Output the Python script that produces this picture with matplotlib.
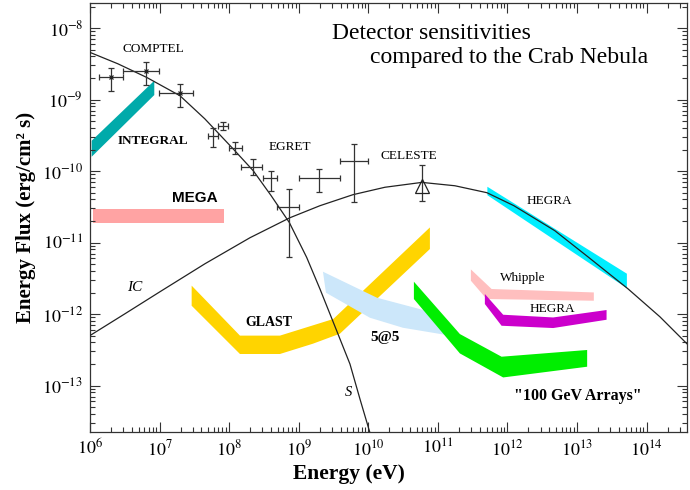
import numpy as np
import matplotlib
matplotlib.use("Agg")
import matplotlib.pyplot as plt
from matplotlib.ticker import FixedLocator, FuncFormatter, NullFormatter

plt.rcParams["font.family"] = ["Liberation Serif", "DejaVu Serif"]
plt.rcParams["mathtext.fontset"] = "stix"

# all values are log10(energy / eV) and log10(flux / erg cm^-2 s^-1)

# COMPTEL points: centre, x-range, y-range
comptel_x = [6.297, 6.805, 7.293]
comptel_y = [-8.691, -8.607, -8.915]
comptel_xlo = [6.134, 6.470, 6.996]
comptel_xhi = [6.470, 6.996, 7.476]
comptel_ylo = [-8.887, -8.797, -9.110]
comptel_yhi = [-8.559, -8.476, -8.783]

# EGRET points
egret_x = [7.767, 7.915, 8.088, 8.338, 8.596, 8.864, 9.295, 9.793]
egret_y = [-9.516, -9.371, -9.684, -9.940, -10.103, -10.499, -10.103, -9.856]
egret_xlo = [7.691, 7.843, 8.000, 8.165, 8.490, 8.691, 9.003, 9.592]
egret_xhi = [7.843, 7.987, 8.180, 8.476, 8.690, 9.007, 9.592, 9.999]
egret_ylo = [-9.670, -9.427, -9.762, -10.052, -10.285, -11.208, -10.299, -10.439]
egret_yhi = [-9.399, -9.310, -9.600, -9.832, -9.996, -10.252, -9.972, -9.622]

# CELESTE point
celeste_x = [10.775]
celeste_y = [-10.206]
celeste_ylo = [-10.415]
celeste_yhi = [-9.912]

# synchrotron (S) curve
sync_x = [6.0, 6.4, 6.815, 7.293, 7.65, 8.059, 8.346, 8.6, 8.864, 9.114,
          9.305, 9.545, 9.736, 9.88, 10.023]
sync_y = [-8.341, -8.50, -8.691, -8.947, -9.27, -9.692, -9.996, -10.34,
          -10.719, -11.208, -11.650, -12.233, -12.699, -13.189, -13.66]

# inverse Compton (IC) curve
ic_x = [6.0, 6.503, 7.006, 7.652, 8.299, 8.874, 9.305, 9.779, 10.239, 10.770,
        11.244, 11.704, 12.092, 12.681, 13.155, 13.730, 14.190, 14.578]
ic_y = [-12.301, -11.996, -11.688, -11.297, -10.933, -10.653, -10.485, -10.331,
        -10.227, -10.159, -10.206, -10.303, -10.485, -10.835, -11.199, -11.646,
        -12.038, -12.415]

# sensitivity bands (polygon outlines)
integral_x = [6.024, 6.924, 6.924, 6.024]
integral_y = [-9.576, -8.737, -8.937, -9.800]

mega_x = [6.047, 7.925, 7.925, 6.047]
mega_y = [-10.531, -10.531, -10.727, -10.727]

glast_x = [7.461, 8.155, 8.730, 9.496, 10.885, 10.885, 9.592, 9.204, 8.730,
           8.155, 7.461]
glast_y = [-11.603, -12.302, -12.302, -12.070, -10.789, -11.091, -12.275,
           -12.415, -12.559, -12.559, -11.884]

fivefive_x = [9.348, 10.124, 10.885, 11.144, 11.101, 10.497, 10.023, 9.391]
fivefive_y = [-11.408, -11.772, -11.968, -12.122, -12.290, -12.192, -12.052,
              -11.702]

arrays_x = [10.655, 11.316, 11.915, 13.145, 13.145, 11.938, 11.316, 10.655]
arrays_y = [-11.548, -12.280, -12.597, -12.503, -12.737, -12.887, -12.551,
            -11.790]

whipple_x = [11.474, 11.772, 13.241, 13.241, 11.700, 11.474]
whipple_y = [-11.376, -11.650, -11.698, -11.814, -11.790, -11.534]

hegra_x = [11.675, 11.938, 12.657, 13.424, 13.424, 12.657, 11.915, 11.675]
hegra_y = [-11.720, -12.010, -12.048, -11.944, -12.080, -12.196, -12.164,
           -11.860]

hegra_crab_x = [11.711, 13.716, 13.716, 11.711]
hegra_crab_y = [-10.220, -11.436, -11.639, -10.338]

x_decades = [6, 7, 8, 9, 10, 11, 12, 13, 14]
y_decades = [-13, -12, -11, -10, -9, -8]


def p(v):
    return 10.0 ** np.asarray(v, dtype=float)


fig = plt.figure(figsize=(6.9, 4.9), dpi=100)
ax = fig.add_axes([90 / 690, 1 - 432 / 490, 597 / 690, 429 / 490])
ax.set_xscale("log")
ax.set_yscale("log")
ax.set_xlim(1e6, 10 ** 14.58)
ax.set_ylim(10 ** -13.65, 10 ** -7.65)

bands = [
    (integral_x, integral_y, "#00aaaa"),
    (mega_x, mega_y, "#ffa3a3"),
    (glast_x, glast_y, "#ffd400"),
    (fivefive_x, fivefive_y, "#cce7fa"),
    (arrays_x, arrays_y, "#00ee00"),
    (whipple_x, whipple_y, "#ffbfbf"),
    (hegra_x, hegra_y, "#cc00cc"),
    (hegra_crab_x, hegra_crab_y, "#00eeff"),
]
for bx, by, col in bands:
    ax.fill(p(bx), p(by), color=col, lw=0, zorder=1)

ax.plot(p(sync_x), p(sync_y), color="#222222", lw=0.9, zorder=3)
ax.plot(p(ic_x), p(ic_y), color="#222222", lw=0.9, zorder=3)


def errs(c, lo, hi):
    c = p(c)
    return [c - p(lo), p(hi) - c]


ebar = dict(fmt="none", ecolor="#333333", elinewidth=0.9, capsize=2.5,
            capthick=0.9, zorder=4)
ax.errorbar(p(comptel_x), p(comptel_y),
            xerr=errs(comptel_x, comptel_xlo, comptel_xhi),
            yerr=errs(comptel_y, comptel_ylo, comptel_yhi), **ebar)
ax.plot(p(comptel_x), p(comptel_y), "x", color="#222222", ms=3, mew=0.9,
        zorder=5)
ax.errorbar(p(egret_x), p(egret_y),
            xerr=errs(egret_x, egret_xlo, egret_xhi),
            yerr=errs(egret_y, egret_ylo, egret_yhi), **ebar)
ax.errorbar(p(celeste_x), p(celeste_y),
            yerr=errs(celeste_y, celeste_ylo, celeste_yhi), **ebar)
ax.plot(p(celeste_x), p(celeste_y), "^", ms=10, mfc="none", mec="#222222",
        mew=0.9, zorder=5)

# labels
ax.text(p(6.905), p(-8.290), "COMPTEL", fontsize=9.5, ha="center", va="center")
ax.text(p(6.901), p(-9.576), "INTEGRAL", fontsize=9.5, fontweight="bold",
        ha="center", va="center")
ax.text(p(8.871), p(-9.660), "EGRET", fontsize=9.5, ha="center", va="center")
ax.text(p(10.576), p(-9.786), "CELESTE", fontsize=9.5, ha="center", va="center")
ax.text(p(12.609), p(-10.420), "HEGRA", fontsize=9.5, ha="center", va="center")
ax.text(p(7.509), p(-10.378), "MEGA", fontsize=11, fontweight="bold",
        family=["Liberation Sans", "DejaVu Sans"], ha="center", va="center")
ax.text(p(6.642), p(-11.628), "IC", fontsize=11, style="italic",
        ha="center", va="center")
ax.text(p(8.576), p(-12.117), "GLAST", fontsize=10, fontweight="bold",
        ha="center", va="center")
ax.text(p(10.234), p(-12.327), "5@5", fontsize=11, fontweight="bold",
        ha="center", va="center")
ax.text(p(9.711), p(-13.096), "S", fontsize=10.5, style="italic",
        ha="center", va="center")
ax.text(p(12.226), p(-11.497), "Whipple", fontsize=9.5, ha="center",
        va="center")
ax.text(p(12.648), p(-11.930), "HEGRA", fontsize=9.5, ha="center", va="center")
ax.text(p(13.004), p(-13.143), '"100 GeV Arrays"', fontsize=11.5,
        fontweight="bold", ha="center", va="center")

ax.text(0.405, 0.930, "Detector sensitivities", fontsize=17,
        transform=ax.transAxes, ha="left", va="center")
ax.text(0.469, 0.874, "compared to the Crab Nebula", fontsize=17,
        transform=ax.transAxes, ha="left", va="center")

# axes styling
fmt = FuncFormatter(lambda v, pos: r"$10^{%d}$" % round(np.log10(v)))
ax.xaxis.set_major_locator(FixedLocator(p(x_decades)))
ax.yaxis.set_major_locator(FixedLocator(p(y_decades)))
x_minor = [m * 10.0 ** d for d in range(6, 15) for m in range(2, 10)
           if m * 10.0 ** d < 10 ** 14.58]
y_minor = [m * 10.0 ** d for d in range(-14, -7) for m in range(2, 10)
           if 10 ** -13.65 < m * 10.0 ** d < 10 ** -7.65]
ax.xaxis.set_minor_locator(FixedLocator(x_minor))
ax.yaxis.set_minor_locator(FixedLocator(y_minor))
ax.xaxis.set_major_formatter(fmt)
ax.yaxis.set_major_formatter(fmt)
ax.xaxis.set_minor_formatter(NullFormatter())
ax.yaxis.set_minor_formatter(NullFormatter())
ax.tick_params(which="both", direction="in", top=True, right=True,
               labelsize=13, width=0.8, color="#333333")
ax.tick_params(which="major", length=7, pad=5)
ax.tick_params(which="minor", length=3.5)
for s in ax.spines.values():
    s.set_linewidth(0.9)
    s.set_color("#333333")

ax.set_xlabel("Energy (eV)", fontsize=15.5, fontweight="bold")
ax.xaxis.set_label_coords(0.434, -0.075)
ax.set_ylabel("Energy Flux (erg/cm\u00b2 s)", fontsize=15, fontweight="bold")

fig.savefig("out.png", dpi=100)
